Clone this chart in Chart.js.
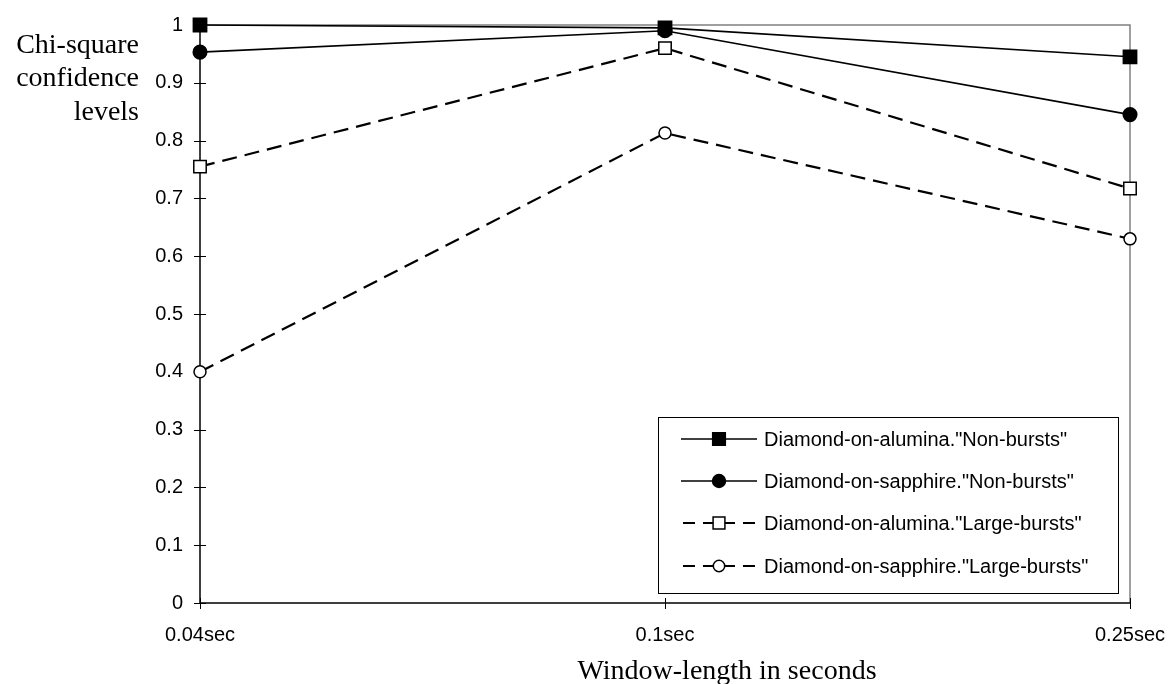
<!DOCTYPE html>
<html>
<head>
<meta charset="utf-8">
<script src="https://cdn.jsdelivr.net/npm/chart.js@4"></script>
<style>
  html, body { margin: 0; padding: 0; background: #fff; }
  #wrap { width: 1174px; height: 684px; }
</style>
</head>
<body>
<div id="wrap"><canvas id="chiChart" width="1174" height="684"></canvas></div>
<script>
const categories = ['0.04sec', '0.1sec', '0.25sec'];
const aluminaNonBursts = [1.0, 0.995, 0.945];
const sapphireNonBursts = [0.953, 0.99, 0.845];
const aluminaLargeBursts = [0.755, 0.96, 0.717];
const sapphireLargeBursts = [0.40, 0.813, 0.63];
const seriesNames = [
  'Diamond-on-alumina."Non-bursts"',
  'Diamond-on-sapphire."Non-bursts"',
  'Diamond-on-alumina."Large-bursts"',
  'Diamond-on-sapphire."Large-bursts"'
];

const sansFont = '"Liberation Sans", Arial, sans-serif';
const serifFont = '"Liberation Serif", "Times New Roman", serif';

const styles = [
  { pointStyle: 'rect', radius: 9.4, fill: '#000', dash: [], width: 1.6 },
  { pointStyle: 'circle', radius: 6.8, fill: '#000', dash: [], width: 1.6 },
  { pointStyle: 'rect', radius: 8.8, fill: '#fff', dash: [15, 8], width: 2.2 },
  { pointStyle: 'circle', radius: 6, fill: '#fff', dash: [15, 8], width: 2.2 }
];
const seriesData = [aluminaNonBursts, sapphireNonBursts, aluminaLargeBursts, sapphireLargeBursts];

const datasets = seriesData.map((d, i) => ({
  label: seriesNames[i],
  data: d,
  borderColor: '#000',
  borderWidth: styles[i].width,
  borderDash: styles[i].dash,
  pointStyle: styles[i].pointStyle,
  pointRadius: styles[i].radius,
  pointHoverRadius: styles[i].radius,
  pointBackgroundColor: styles[i].fill,
  pointBorderColor: '#000',
  pointBorderWidth: 1.5,
  tension: 0,
  fill: false,
  clip: false
}));

// frame, tick marks, titles and legend box
const decorations = {
  id: 'decorations',
  beforeDatasetsDraw(chart) {
    const { ctx, chartArea: a, scales } = chart;
    ctx.save();
    ctx.strokeStyle = '#808080';
    ctx.lineWidth = 1.5;
    ctx.beginPath();
    ctx.moveTo(a.left, a.top);
    ctx.lineTo(a.right, a.top);
    ctx.lineTo(a.right, a.bottom);
    ctx.stroke();

    ctx.strokeStyle = '#000';
    ctx.lineWidth = 1.5;
    ctx.beginPath();
    ctx.moveTo(a.left, a.top);
    ctx.lineTo(a.left, a.bottom);
    ctx.lineTo(a.right, a.bottom);
    ctx.stroke();

    ctx.lineWidth = 1;
    ctx.beginPath();
    scales.y.ticks.forEach(t => {
      const y = Math.round(scales.y.getPixelForValue(t.value)) + 0.5;
      ctx.moveTo(a.left - 6, y);
      ctx.lineTo(a.left + 6, y);
    });
    categories.forEach((c, i) => {
      const x = Math.round(scales.x.getPixelForValue(i)) + 0.5;
      ctx.moveTo(x, a.bottom - 5);
      ctx.lineTo(x, a.bottom + 6);
    });
    ctx.stroke();
    ctx.restore();
  },
  afterDraw(chart) {
    const { ctx } = chart;
    ctx.save();
    // axis titles
    ctx.fillStyle = '#000';
    ctx.font = '28px ' + serifFont;
    ctx.textAlign = 'right';
    ctx.textBaseline = 'alphabetic';
    ctx.fillText('Chi-square', 139, 53);
    ctx.fillText('confidence', 139, 86);
    ctx.fillText('levels', 139, 120);
    ctx.textAlign = 'center';
    ctx.fillText('Window-length in seconds', 727, 679);

    // legend
    const box = { left: 658, top: 417, right: 1118, bottom: 593 };
    ctx.fillStyle = '#fff';
    ctx.fillRect(box.left, box.top, box.right - box.left, box.bottom - box.top);
    ctx.strokeStyle = '#000';
    ctx.lineWidth = 1;
    ctx.strokeRect(box.left + 0.5, box.top + 0.5, box.right - box.left, box.bottom - box.top);
    const rows = [439, 481, 523, 566];
    seriesNames.forEach((name, i) => {
      const y = rows[i];
      const s = styles[i];
      ctx.save();
      ctx.strokeStyle = '#000';
      ctx.lineWidth = s.width;
      ctx.setLineDash(s.dash.length ? [12, 8] : []);
      ctx.lineDashOffset = s.dash.length ? -2 : 0;
      ctx.beginPath();
      ctx.moveTo(681, y);
      ctx.lineTo(757, y);
      ctx.stroke();
      ctx.restore();
      ctx.save();
      ctx.fillStyle = s.fill;
      ctx.strokeStyle = '#000';
      ctx.lineWidth = 1.5;
      Chart.helpers.drawPoint(ctx, {
        pointStyle: s.pointStyle,
        rotation: 0,
        radius: s.radius * 0.95,
        borderWidth: 1.5
      }, 719, y);
      ctx.restore();
      ctx.fillStyle = '#000';
      ctx.font = '20px ' + sansFont;
      ctx.textAlign = 'left';
      ctx.textBaseline = 'middle';
      ctx.fillText(name, 764, y + 1);
    });
    ctx.restore();
  }
};

const ctx = document.getElementById('chiChart').getContext('2d');
new Chart(ctx, {
  type: 'line',
  data: { labels: categories, datasets: datasets },
  options: {
    responsive: false,
    animation: false,
    layout: { autoPadding: false, padding: { top: 25, right: 44, bottom: 0, left: 0 } },
    plugins: {
      legend: { display: false },
      tooltip: { enabled: false }
    },
    scales: {
      x: {
        type: 'category',
        offset: false,
        grid: { display: false, drawTicks: false },
        border: { display: false },
        ticks: { color: '#000', font: { family: sansFont, size: 20 }, padding: 20, maxRotation: 0, autoSkip: false },
        afterFit(s) { s.height = 81; s.paddingLeft = 0; s.paddingRight = 0; }
      },
      y: {
        min: 0,
        max: 1,
        grid: { display: false, drawTicks: false },
        border: { display: false },
        ticks: {
          stepSize: 0.1,
          color: '#000',
          font: { family: sansFont, size: 20 },
          padding: 17,
          callback: v => +v.toFixed(1)
        },
        afterFit(s) { s.width = 200; s.paddingTop = 0; s.paddingBottom = 0; }
      }
    }
  },
  plugins: [decorations]
});
</script>
</body>
</html>
